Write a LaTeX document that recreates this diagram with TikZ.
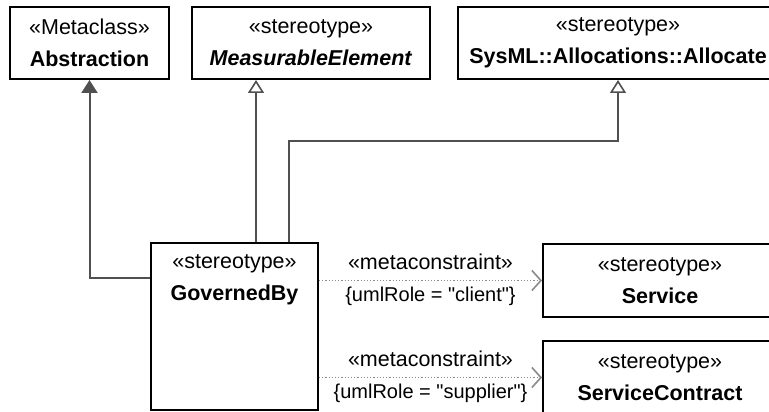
\documentclass[tikz,border=0pt]{standalone}
\usepackage{fontspec}
\setmainfont{Liberation Sans}[Ligatures=TeXOff]
\usetikzlibrary{arrows.meta, positioning, calc}
\definecolor{line_grey}{HTML}{505050}
\definecolor{dot_grey}{HTML}{8a8a8a}

\begin{document}
\begin{tikzpicture}[
                x=1pt, y=-1pt,
                font=\fontsize{21.5pt}{32pt}\selectfont,
                box/.style={rectangle, draw=black, line width=2pt, fill=white, align=center, inner sep=0pt},
                title/.style={align=center, inner sep=0pt},
                role/.style={inner sep=0pt, font=\fontsize{20pt}{24pt}\selectfont},
                stereo/.style={inner sep=0pt},
                extend/.style={line width=2pt, draw=line_grey, -{Triangle[length=13pt, width=16pt]}},
                realize/.style={line width=2pt, draw=line_grey, -{Triangle[open, length=13pt, width=16pt, line width=1.6pt]}},
                constraint/.style={line width=1.2pt, draw=dot_grey, dotted, -{Straight Barb[length=9pt, width=20pt, line width=1.6pt]}}
            ]
                \clip (0,0) rectangle (769,412);

                % Nodes
                \node (abstraction) [box, minimum width=159pt, minimum height=72pt] at (89.5,43) {«Metaclass»\\\textbf{Abstraction}};
                \node (measurable) [box, minimum width=238pt, minimum height=72pt] at (311,43) {«stereotype»\\\textbf{\textit{MeasurableElement}}};
                \node (allocated) [box, minimum width=320pt, minimum height=72pt] at (618,43) {«stereotype»\\\textbf{SysML::Allocations::Allocate}};
                \node (governed) [box, minimum width=167pt, minimum height=167pt] at (234.5,326.5) {};
                \node (governed_title) [title, below=12pt of governed.north] {«stereotype»\\\textbf{GovernedBy}};
                \node (service) [box, minimum width=234pt, minimum height=73pt] at (660,280.5) {«stereotype»\\\textbf{Service}};
                \node (contract) [box, minimum width=234pt, minimum height=73pt] at (660,377.5) {«stereotype»\\\textbf{ServiceContract}};

                \coordinate (measurable_foot) at ([xshift=106pt]governed.north west);
                \coordinate (allocated_foot) at ([xshift=139pt]governed.north west);

                % Arrows
                \draw [extend] ([yshift=-36pt]governed.north west) -| (abstraction.south);
                \draw [realize] (measurable_foot) -- (measurable_foot |- measurable.south);
                \draw [realize] (allocated_foot) |- ([yshift=-61pt]allocated.south) -- (allocated.south);

                % Metaconstraints
                \draw [constraint] (governed.east |- service.west) -- node[stereo, above=10pt] (client_stereo) {«metaconstraint»} node[role, below=6pt] (client_role) {\{umlRole = "client"\}} (service.west);
                \draw [constraint] (governed.east |- contract.west) -- node[stereo, above=10pt] (supplier_stereo) {«metaconstraint»} node[role, below=6pt] (supplier_role) {\{umlRole = "supplier"\}} (contract.west);
            \end{tikzpicture}
\end{document}
